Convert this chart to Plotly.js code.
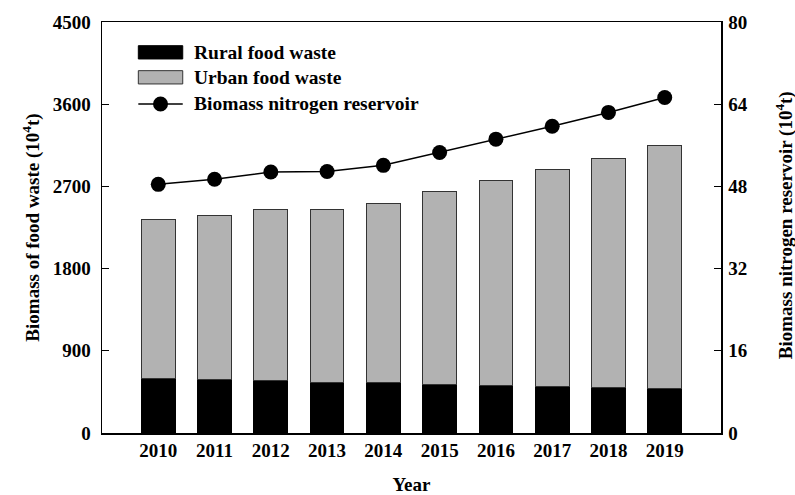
<!DOCTYPE html>
<html>
<head>
<meta charset="utf-8">
<script src="https://cdn.plot.ly/plotly-3.0.1.min.js"></script>
<style>html,body{margin:0;padding:0;background:#fff;}#chart{width:795px;height:495px;}</style>
</head>
<body>
<div id="chart"></div>
<script>
const years = [2010, 2011, 2012, 2013, 2014, 2015, 2016, 2017, 2018, 2019];
const ruralWaste = [597, 583, 572, 558, 550, 536, 525, 514, 503, 492];
const urbanWaste = [1737, 1802, 1879, 1893, 1966, 2104, 2239, 2367, 2506, 2659];
const nitrogenReservoir = [48.4, 49.4, 50.8, 50.9, 52.1, 54.6, 57.2, 59.7, 62.4, 65.3];
const seriesNames = ['Rural food waste', 'Urban food waste', 'Biomass nitrogen reservoir'];
const leftTicks = [0, 900, 1800, 2700, 3600, 4500];
const rightTicks = [0, 16, 32, 48, 64, 80];
const rightTitle = 'Biomass nitrogen reservoir (10<sup>4</sup>t)';

const FONT = 'Liberation Serif, Times New Roman, serif';

const traces = [
  {type: 'bar', x: years, y: ruralWaste, name: seriesNames[0], width: 0.6,
   marker: {color: '#000000', line: {color: '#000000', width: 1}}, showlegend: false},
  {type: 'bar', x: years, y: urbanWaste, name: seriesNames[1], width: 0.6,
   marker: {color: '#b2b2b2', line: {color: '#333333', width: 1}}, showlegend: false},
  {type: 'scatter', mode: 'lines+markers', x: years, y: nitrogenReservoir, yaxis: 'y2',
   name: seriesNames[2], line: {color: '#000000', width: 1.5},
   marker: {color: '#000000', size: 15}, showlegend: false}
];

// custom legend (paper coords)
const W = 618.7, H = 411.3, L = 102, B = 433.3;
const px = v => (v - L) / W;
const py = v => (B - v) / H;
const shapes = [
  {type: 'rect', xref: 'paper', yref: 'paper', x0: px(138.3), x1: px(182.7), y0: py(59), y1: py(45.7),
   fillcolor: '#000000', line: {color: '#000000', width: 1}},
  {type: 'rect', xref: 'paper', yref: 'paper', x0: px(138.3), x1: px(182.7), y0: py(84), y1: py(70.7),
   fillcolor: '#b2b2b2', line: {color: '#333333', width: 1}},
  {type: 'line', xref: 'paper', yref: 'paper', x0: px(138.3), x1: px(182.7), y0: py(104), y1: py(104),
   line: {color: '#000000', width: 1.5}},
  {type: 'circle', xref: 'paper', yref: 'paper', x0: px(160.5 - 7.5), x1: px(160.5 + 7.5), y0: py(104 + 7.5), y1: py(104 - 7.5),
   fillcolor: '#000000', line: {color: '#000000', width: 0}}
];
const legendY = [52.3, 77.5, 104];
const annotations = seriesNames.map((n, i) => ({
  xref: 'paper', yref: 'paper', x: px(192), y: py(legendY[i]), xanchor: 'left', yanchor: 'middle',
  text: '<b>' + n + '</b>', showarrow: false, font: {family: FONT, size: 19.5, color: '#000'}
}));
annotations.push({
  xref: 'paper', yref: 'paper', x: px(785), y: py(225), xanchor: 'center', yanchor: 'middle',
  textangle: -90, text: '<b>' + rightTitle + '</b>', showarrow: false,
  font: {family: FONT, size: 19, color: '#000'}
});

const layout = {
  width: 795, height: 495,
  margin: {l: 102, r: 74.3, t: 22, b: 61.7},
  paper_bgcolor: '#ffffff', plot_bgcolor: '#ffffff',
  barmode: 'stack',
  font: {family: FONT, color: '#000'},
  showlegend: false,
  xaxis: {
    range: [2009, 2020], tickvals: years, ticktext: years.map(y => '<b>' + y + '</b>'),
    showline: true, linecolor: '#000', linewidth: 1.5, mirror: true,
    ticks: '', showgrid: false, zeroline: false,
    tickfont: {family: FONT, size: 19, color: '#000'},
    title: {text: '<b>Year</b>', font: {family: FONT, size: 19, color: '#000'}},
    automargin: false
  },
  yaxis: {
    range: [0, 4500], tickvals: leftTicks, ticktext: leftTicks.map(t => '<b>' + t + '</b>'),
    showline: true, linecolor: '#000', linewidth: 1.5,
    ticks: 'inside', ticklen: 7, tickcolor: '#000', tickwidth: 1,
    showgrid: false, zeroline: false, ticklabelstandoff: 6,
    tickfont: {family: FONT, size: 19, color: '#000'},
    title: {text: '<b>Biomass of food waste (10<sup>4</sup>t)</b>', font: {family: FONT, size: 19, color: '#000'}, standoff: 8},
    automargin: true
  },
  yaxis2: {
    overlaying: 'y', side: 'right',
    range: [0, 80], tickvals: rightTicks, ticktext: rightTicks.map(t => '<b>' + t + '</b>'),
    showline: true, linecolor: '#000', linewidth: 1.5,
    ticks: 'inside', ticklen: 7, tickcolor: '#000', tickwidth: 1,
    showgrid: false, zeroline: false, ticklabelstandoff: 2,
    tickfont: {family: FONT, size: 19, color: '#000'},
    automargin: false
  },
  shapes: shapes,
  annotations: annotations
};

Plotly.newPlot('chart', traces, layout, {displayModeBar: false, staticPlot: true});
</script>
</body>
</html>
